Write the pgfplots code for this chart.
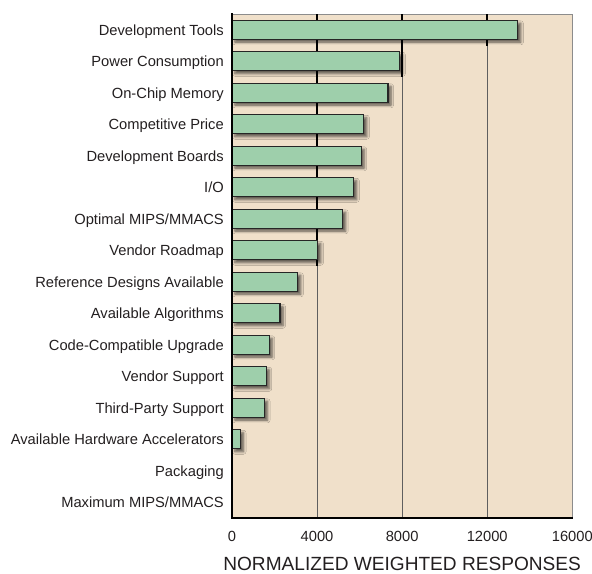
\documentclass[border=0pt]{standalone}
\usepackage{fontspec}
\setmainfont{Liberation Sans}
\usepackage{pgfplots}
\pgfplotsset{compat=1.18}
\usetikzlibrary{shadows.blur}
\definecolor{bg}{RGB}{240,224,202}
\definecolor{barfill}{RGB}{158,207,171}
\definecolor{txt}{RGB}{35,31,32}
\definecolor{gridc}{RGB}{95,95,95}
\definecolor{framec}{RGB}{140,140,140}
\begin{document}
\begin{tikzpicture}
\begin{axis}[name=ax, at={(0,0)}, anchor=south west,
  scale only axis, width=340.3bp, height=504bp,
  xmin=0, xmax=16000, ymin=-0.5, ymax=15.5, y dir=reverse,
  scaled x ticks=false,
  xtick={0,4000,8000,12000,16000},
  xticklabels={0,4000,8000,12000,16000},
  ytick={0,...,15},
  yticklabels={Development Tools,Power Consumption,On-Chip Memory,Competitive Price,Development Boards,I/O,Optimal MIPS/MMACS,Vendor Roadmap,Reference Designs Available,Available Algorithms,Code-Compatible Upgrade,Vendor Support,Third-Party Support,Available Hardware Accelerators,Packaging,Maximum MIPS/MMACS},
  major tick length=0pt,
  xmajorgrids,
  major grid style={draw=gridc, line width=0.8bp},
  axis line style={draw=framec, line width=0.8bp},
  axis background/.style={fill=bg},
  tick label style={font=\fontsize{14.7bp}{17bp}\selectfont, text=txt},
  xticklabel style={anchor=north, inner sep=0pt, yshift=-12.7bp},
  yticklabel style={anchor=base east, inner sep=0pt, xshift=-8bp, yshift=-5.25bp},
  xlabel={NORMALIZED WEIGHTED RESPONSES},
  xlabel style={at={(axis description cs:0.5,0)}, anchor=base, yshift=-52.5bp,
    font=\fontsize{19.1bp}{22bp}\selectfont, text=txt, inner sep=0pt},
  after end axis/.code={
    \draw[black, line width=2.2bp, line cap=rect] (rel axis cs:0,1) -- (rel axis cs:0,0) -- (rel axis cs:1,0);
  },
]
\addplot[black, line width=1.6bp, forget plot] coordinates {(4000,-0.5) (4000,7.5)};
\addplot[black, line width=1.6bp, forget plot] coordinates {(8000,-0.5) (8000,1.5)};
\addplot[black, line width=1.6bp, forget plot] coordinates {(12000,-0.5) (12000,0.5)};
\addplot[xbar, bar width=19bp, fill=barfill, draw=black!85, line width=1.1bp,
  blur shadow={shadow xshift=3bp, shadow yshift=-3bp, shadow blur radius=2.5bp, shadow opacity=60, shadow blur steps=6}]
  coordinates {
  (13440,0) (7890,1) (7335,2) (6200,3) (6075,4) (5725,5) (5205,6) (4040,7)
  (3095,8) (2257,9) (1750,10) (1610,11) (1530,12) (400,13)
};
\end{axis}
\pgfresetboundingbox
\path[use as bounding box] (-232bp,-56bp) rectangle (360bp,518bp);
\end{tikzpicture}
\end{document}
